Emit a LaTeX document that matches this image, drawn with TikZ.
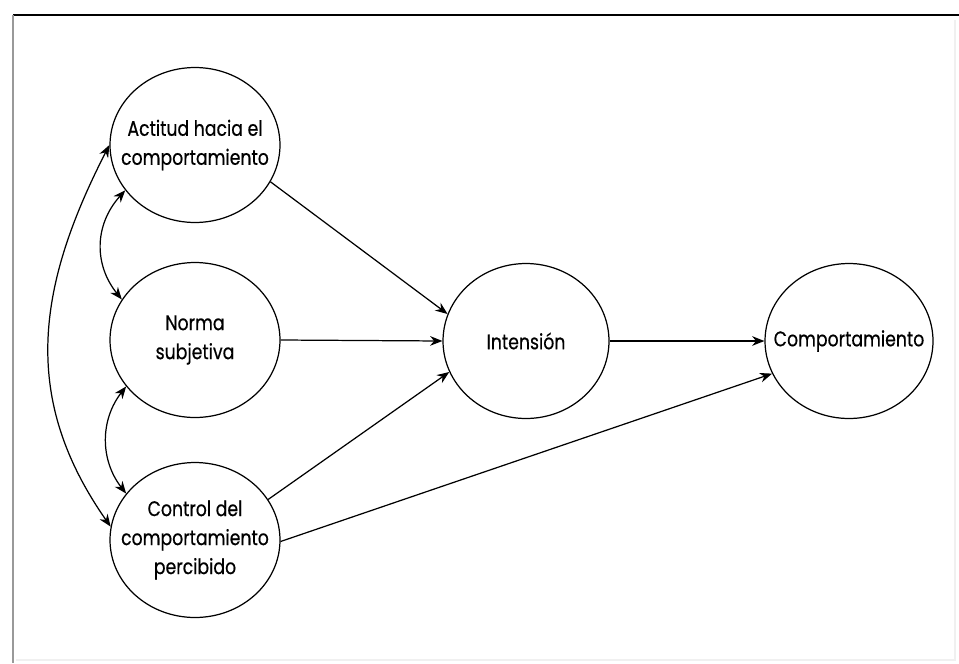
\documentclass[tikz,border=0pt]{standalone}
\usepackage{fontspec}
\setmainfont{Poppins}[FakeStretch=0.82, FakeBold=0.5]
\usetikzlibrary{arrows.meta}
\usetikzlibrary{shapes,shapes.geometric}

\begin{document}
\begin{tikzpicture}[
        x=0.02cm, y=-0.02cm,
        >={Stealth[length=7pt,width=5.5pt]},
        blob/.style = {draw, ellipse, line width=0.7pt, minimum width=3.4cm, minimum height=3.1cm, inner sep=0pt},
        txt/.style = {inner sep=0pt, align=center, font=\fontsize{12}{16.5}\selectfont},
        link/.style = {->, line width=0.7pt},
        both/.style = {<->, line width=0.7pt}
    ]
    \useasboundingbox (0,0) rectangle (959,663);
    % frame
    \draw[line width=1.6pt] (13,15) -- (959,15);
    \draw[black!40, line width=1.4pt] (13,15) -- (13,663);
    \draw[black!6, line width=1pt] (955,20) -- (955,660) -- (16,660);
    % constructs
    \node[blob] (act) at (195,145) {};
    \node[blob] (nor) at (195,340) {};
    \node[blob] (ctl) at (195,540) {};
    \node[blob, minimum width=3.32cm] (int) at (526,341) {};
    \node[blob, minimum width=3.36cm] (cmp) at (849,341) {};
    \node[txt] (act-t) at (act) {Actitud hacia el\\comportamiento};
    \node[txt] (nor-t) at (nor) {Norma\\subjetiva};
    \node[txt] (ctl-t) at (ctl) {Control del\\comportamiento\\percibido};
    \node[txt] (int-t) at (int) {Intensión};
    \node[txt] (cmp-t) at (cmp) {Comportamiento};
    % correlations
    \draw[both] (act.180) .. controls (35,290) and (22,400) .. (ctl.171);
    \draw[both] (act.213) .. controls (94,225) and (94,265) .. (nor.151);
    \draw[both] (nor.214) .. controls (100,420) and (100,460) .. (ctl.146);
    % paths
    \draw[link] (act.334) -- (int.161);
    \draw[link] (nor.east) -- (int.west);
    \draw[link] (ctl.29) -- (int.202);
    \draw[link] (int.east) -- (cmp.west);
    \draw[link] (ctl.359) -- (cmp.203);
\end{tikzpicture}
\end{document}
